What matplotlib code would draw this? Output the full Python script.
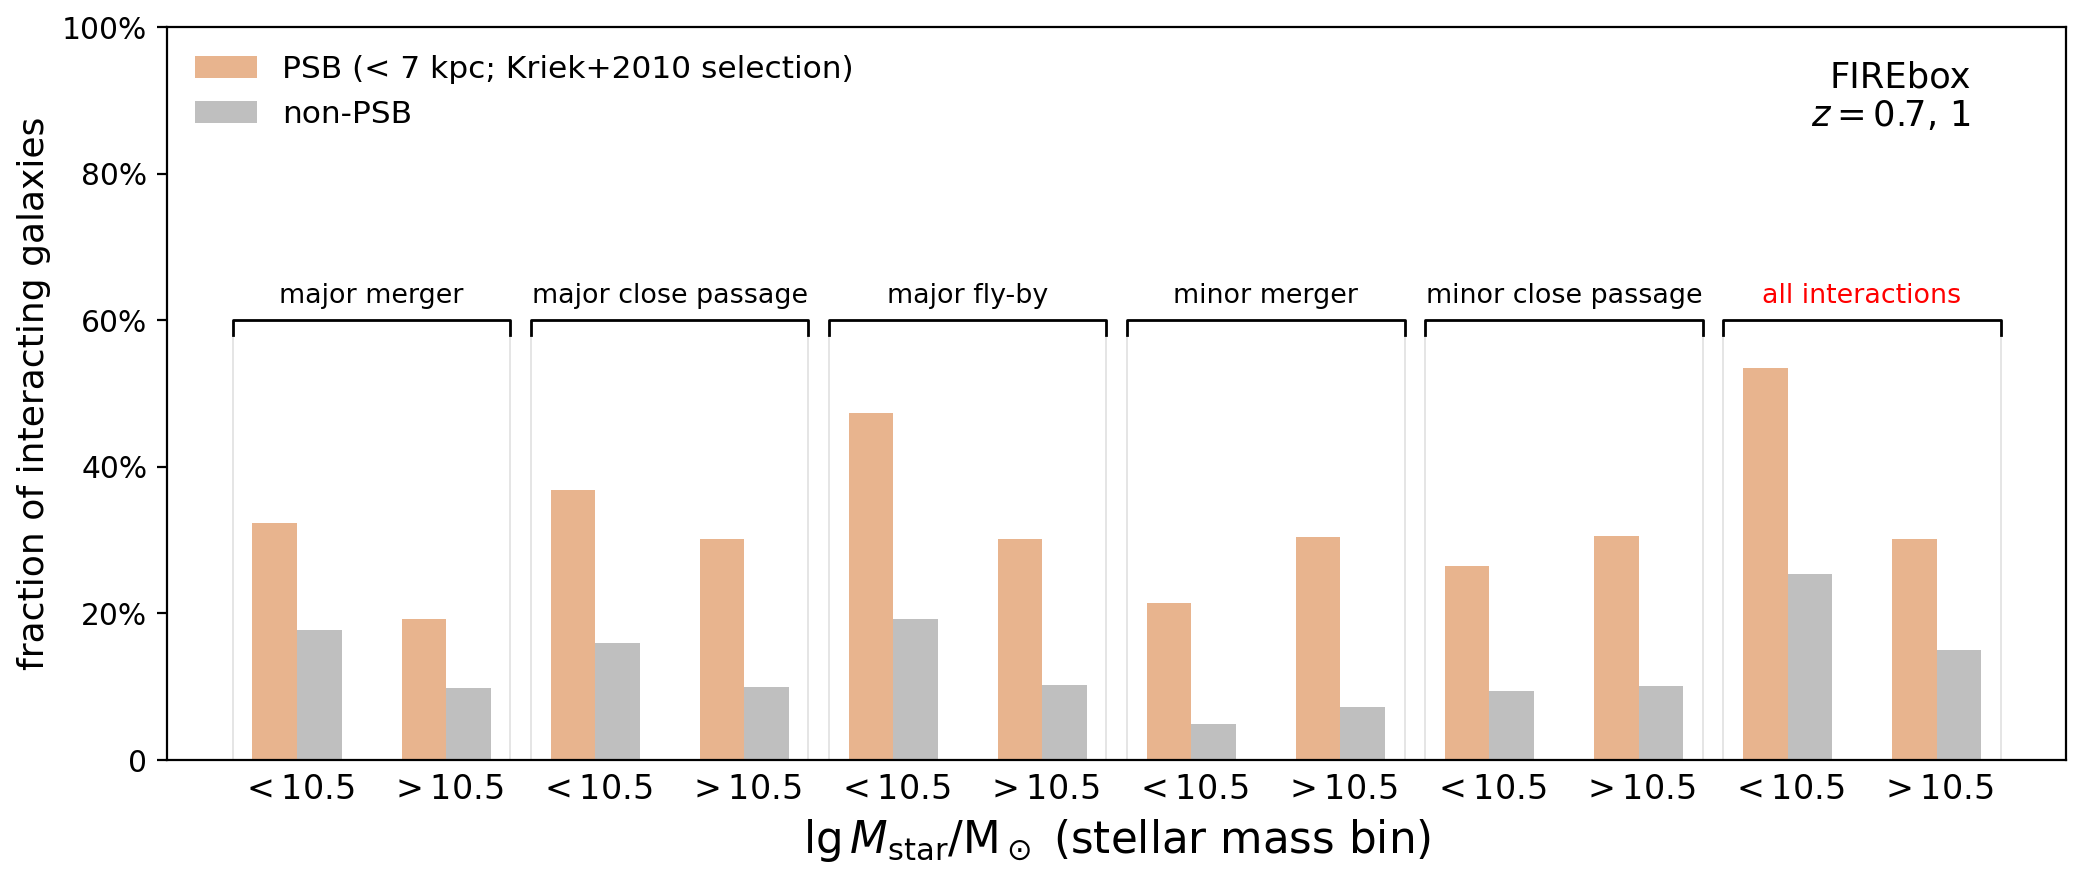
import matplotlib
matplotlib.use('Agg')
import matplotlib.pyplot as plt
import numpy as np

# ---- data ----
groups = ['major merger', 'major close passage', 'major fly-by',
          'minor merger', 'minor close passage', 'all interactions']
group_colors = ['black', 'black', 'black', 'black', 'black', 'red']
mass_bins = [r'$<10.5$', r'$>10.5$']
psb = [32.4, 19.3, 36.8, 30.1, 47.4, 30.1, 21.4, 30.4, 26.5, 30.6, 53.5, 30.2]
nonpsb = [17.7, 9.8, 15.9, 9.95, 19.2, 10.2, 4.9, 7.2, 9.4, 10.1, 25.4, 15.0]
yticks = [0, 20, 40, 60, 80, 100]
ytick_labels = ['0', '20%', '40%', '60%', '80%', '100%']

c_psb = '#E8B48E'
c_non = '#BFBFBF'

fig = plt.figure(figsize=(10.425, 4.405), dpi=200)
ax = fig.add_axes([0.080, 0.1373, 0.911, 0.832])

x = np.arange(len(psb))
w = 0.3
ax.bar(x - w / 2, psb, width=w, color=c_psb, label='PSB (< 7 kpc; Kriek+2010 selection)', zorder=2)
ax.bar(x + w / 2, nonpsb, width=w, color=c_non, label='non-PSB', zorder=2)

# group brackets
for g, (name, col) in enumerate(zip(groups, group_colors)):
    x0 = 2 * g - 0.43
    x1 = 2 * g + 1 + 0.43
    ax.plot([x0, x0], [0, 58], color='0.88', lw=0.6, zorder=1)
    ax.plot([x1, x1], [0, 58], color='0.88', lw=0.6, zorder=1)
    ax.plot([x0, x0, x1, x1], [58, 60, 60, 58], color='black', lw=1.0, zorder=3)
    ax.text(2 * g + 0.5, 62.3, name, ha='center', va='baseline', fontsize=9.7, color=col)

ax.set_xlim(-0.875, 11.87)
ax.set_ylim(0, 100)
ax.set_xticks(x)
ax.set_xticklabels([mass_bins[i % 2] for i in range(len(x))], fontsize=12)
ax.tick_params(axis='x', length=0, pad=4.5)
ax.set_yticks(yticks)
ax.set_yticklabels(ytick_labels, fontsize=10.7)
ax.tick_params(axis='y', length=3.5)

ax.set_ylabel('fraction of interacting galaxies', fontsize=13)
ax.set_xlabel(r'$\lg M_{\rm star}/{\rm M}_\odot$ (stellar mass bin)', fontsize=15.7)

ax.legend(loc='upper left', frameon=False, fontsize=11.25)
ax.text(0.95, 0.955, 'FIREbox\n$z = 0.7,\\,1$', ha='right', va='top',
        multialignment='right', fontsize=12.7, transform=ax.transAxes)

fig.savefig('out.png', dpi=200)
